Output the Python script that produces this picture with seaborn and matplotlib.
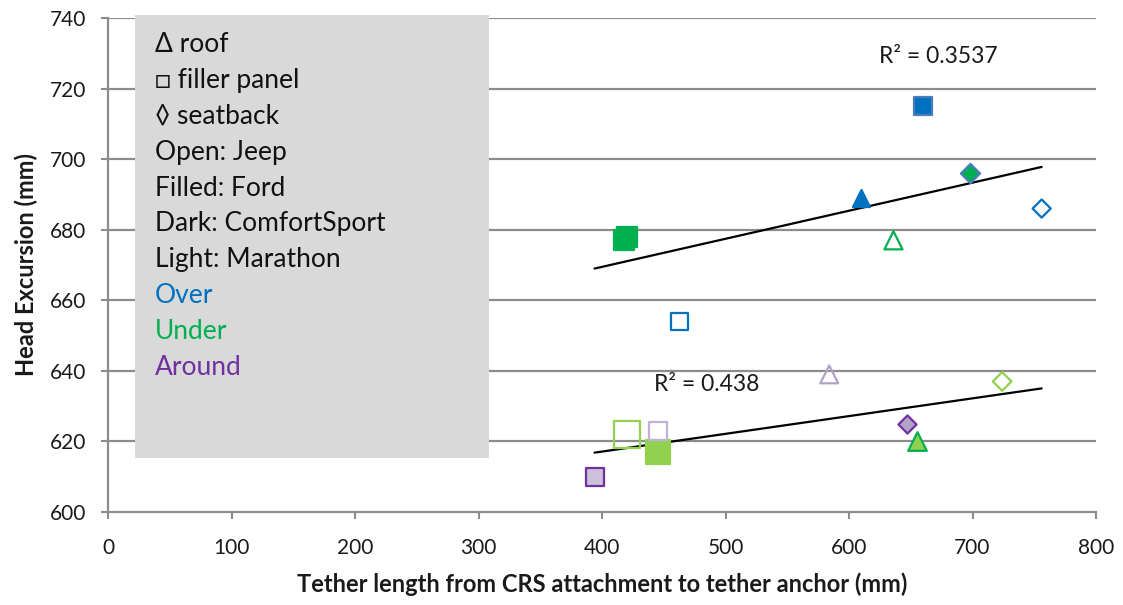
import numpy as np
import pandas as pd
import matplotlib
matplotlib.use("Agg")
import matplotlib.pyplot as plt
from matplotlib.patches import Rectangle
import seaborn as sns

# ---------------- data ----------------
tether = [660, 610, 698, 756, 636, 420, 418, 463,
          584, 724, 647, 655, 420, 445, 445, 394]
excursion = [715, 689, 696, 686, 677, 678, 677, 654,
             639, 637, 625, 620, 622, 623, 617, 610]
location = ["filler panel", "roof", "seatback", "seatback", "roof", "filler panel", "filler panel", "filler panel",
            "roof", "seatback", "seatback", "roof", "filler panel", "filler panel", "filler panel", "filler panel"]
vehicle = ["Ford", "Ford", "Ford", "Jeep", "Jeep", "Ford", "Ford", "Jeep",
           "Jeep", "Jeep", "Ford", "Ford", "Jeep", "Jeep", "Ford", "Ford"]
routing = ["Over", "Over", "Under", "Over", "Under", "Under", "Under", "Over",
           "Around", "Under", "Around", "Under", "Under", "Around", "Under", "Around"]
seat = ["ComfortSport"] * 8 + ["Marathon"] * 8

r2_labels = {"ComfortSport": "R² = 0.3537", "Marathon": "R² = 0.438"}
legend_lines = ["Δ roof", "□ filler panel", "◊ seatback", "Open: Jeep", "Filled: Ford",
                "Dark: ComfortSport", "Light: Marathon", "Over", "Under", "Around"]

x_ticks = [0, 100, 200, 300, 400, 500, 600, 700, 800]
y_ticks = [600, 620, 640, 660, 680, 700, 720, 740]
x_label = "Tether length from CRS attachment to tether anchor (mm)"
y_label = "Head Excursion (mm)"

df = pd.DataFrame(dict(tether=tether, excursion=excursion, location=location,
                       vehicle=vehicle, routing=routing, seat=seat))

# ---------------- styles ----------------
BLUE, GREEN, PURPLE = "#0070C0", "#00B050", "#7030A0"
LGREEN, LPURPLE = "#92D050", "#B3A2C7"
marker_map = {"roof": "^", "filler panel": "s", "seatback": "D"}
# (location, vehicle, routing, seat) -> (face, edge, size in pt^2)
style = {
    ("filler panel", "Ford", "Over", "ComfortSport"): (BLUE, "#4A7EBB", 185),
    ("roof", "Ford", "Over", "ComfortSport"): (BLUE, BLUE, 150),
    ("seatback", "Ford", "Under", "ComfortSport"): (GREEN, "#4A7EBB", 95),
    ("seatback", "Jeep", "Over", "ComfortSport"): ("none", BLUE, 85),
    ("roof", "Jeep", "Under", "ComfortSport"): ("none", GREEN, 170),
    ("filler panel", "Ford", "Under", "ComfortSport"): (GREEN, GREEN, 190),
    ("filler panel", "Jeep", "Over", "ComfortSport"): ("none", BLUE, 150),
    ("roof", "Jeep", "Around", "Marathon"): ("none", LPURPLE, 165),
    ("seatback", "Jeep", "Under", "Marathon"): ("none", LGREEN, 90),
    ("seatback", "Ford", "Around", "Marathon"): (LPURPLE, PURPLE, 85),
    ("roof", "Ford", "Under", "Marathon"): (LGREEN, GREEN, 180),
    ("filler panel", "Jeep", "Under", "Marathon"): ("none", LGREEN, 360),
    ("filler panel", "Jeep", "Around", "Marathon"): ("none", "#C0B2D6", 170),
    ("filler panel", "Ford", "Under", "Marathon"): (LGREEN, LGREEN, 310),
    ("filler panel", "Ford", "Around", "Marathon"): ("#CCC1DA", PURPLE, 175),
}
legend_colors = {"Over": BLUE, "Under": GREEN, "Around": PURPLE}

# ---------------- figure ----------------
sns.set_theme(style="white")
plt.rcParams["font.family"] = ["Lato", "DejaVu Sans"]

fig = plt.figure(figsize=(11.23, 6.05), dpi=100)
ax = fig.add_axes([108 / 1123, 1 - 512 / 605, (1096 - 108) / 1123, (512 - 18) / 605])

grid_c = "#8C8C8C"
for yt in y_ticks[1:]:
    ax.axhline(yt, color=grid_c, lw=1.6, zorder=0)

for key, sub in df.groupby(["location", "vehicle", "routing", "seat"]):
    face, edge, size = style[key]
    sns.scatterplot(data=sub, x="tether", y="excursion", marker=marker_map[key[0]],
                    s=size, facecolor=face, edgecolor=edge, linewidth=1.6,
                    ax=ax, zorder=3, legend=False)

# linear trendlines
x_lo, x_hi = min(tether), max(tether)
for s_name, sub in df.groupby("seat"):
    k, b = np.polyfit(sub["tether"], sub["excursion"], 1)
    line = pd.DataFrame({"x": [x_lo, x_hi], "y": [k * x_lo + b, k * x_hi + b]})
    sns.lineplot(data=line, x="x", y="y", color="black", lw=1.6, ax=ax, zorder=2)

ax.text(672, 729, r2_labels["ComfortSport"], fontsize=16.5, ha="center", va="center", color="#1a1a1a")
ax.text(485, 636.2, r2_labels["Marathon"], fontsize=16.5, ha="center", va="center", color="#1a1a1a")

ax.set_xlim(0, 800)
ax.set_ylim(600, 740)
ax.set_xticks(x_ticks)
ax.set_yticks(y_ticks)
ax.tick_params(axis="both", which="both", direction="out", length=5, width=1.5,
               color=grid_c, labelsize=15, labelcolor="#1a1a1a", pad=11, left=True, bottom=True)
ax.tick_params(axis="x", pad=14)
for side in ["top", "right"]:
    ax.spines[side].set_visible(False)
for side in ["left", "bottom"]:
    ax.spines[side].set_color(grid_c)
    ax.spines[side].set_linewidth(1.6)

ax.set_xlabel(x_label, fontsize=17, fontweight="bold", labelpad=10, color="#1a1a1a")
ax.set_ylabel(y_label, fontsize=17, fontweight="bold", labelpad=8, color="#1a1a1a")

# grey legend box
fig.patches.append(Rectangle((135 / 1123, 1 - 458 / 605), (489 - 135) / 1123, (458 - 15) / 605,
                             transform=fig.transFigure, facecolor="#D9D9D9", edgecolor="none",
                             zorder=10))
for i, txt in enumerate(legend_lines):
    col = legend_colors.get(txt, "#111111")
    fig.text(155 / 1123, 1 - (45 + i * 35.8) / 605, txt, fontsize=19, color=col,
             ha="left", va="center", zorder=11,
             family=["Lato", "DejaVu Sans"])

fig.savefig("out.png", dpi=100)
